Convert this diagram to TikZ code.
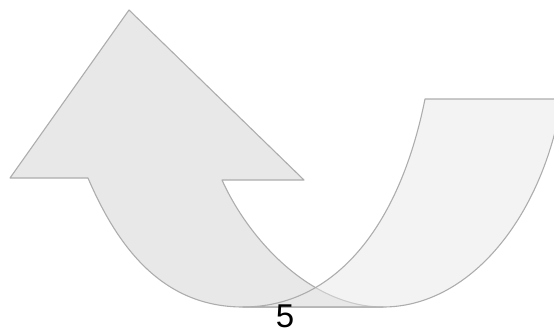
\documentclass[tikz,border=0pt]{standalone}
\usepackage{fontspec}
\setmainfont{Liberation Sans}
\definecolor{bandA}{HTML}{E8E8E8}
\definecolor{edge}{HTML}{ADADAD}
\begin{document}
\begin{tikzpicture}[x=1pt,y=-1pt,
  bandleft/.style={fill=bandA,draw=edge,line width=1.1pt,line join=round},
  bandright/.style={fill=bandA,fill opacity=0.5,draw=edge,draw opacity=1,line width=1.1pt,line join=round},
  numlabel/.style={font=\fontsize{33}{33}\selectfont,inner sep=0pt,anchor=north}]
\useasboundingbox (0,0) rectangle (554,327);
% left band with arrowhead
\path[bandleft] (88,178) -- (10,178) -- (129,10) -- (304,180) -- (222,180)
  .. controls (249,240) and (311,307) .. (383,307)
  -- (243,307)
  .. controls (163,307) and (118,248) .. (88,178) -- cycle;
% right band
\path[bandright] (425,99) -- (562,99)
  .. controls (542,220) and (468,307) .. (383,307)
  -- (243,307)
  .. controls (333,307) and (399,229) .. (425,99) -- cycle;
\node[numlabel] (n5) at (285,305) {5};
\end{tikzpicture}
\end{document}
